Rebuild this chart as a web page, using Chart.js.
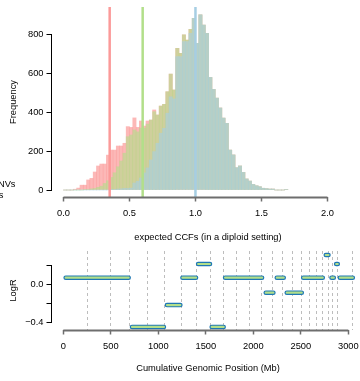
<!DOCTYPE html>
<html>
<head>
<meta charset="utf-8">
<script src="https://cdn.jsdelivr.net/npm/chart.js@4.4.0/dist/chart.umd.min.js"></script>
<style>
  html, body { margin: 0; padding: 0; background: #fff; }
  #wrap { position: relative; width: 360px; height: 381px; overflow: hidden; }
  canvas { position: absolute; left: 0; }
  #ccfChart { top: 0; }
  #logrChart { top: 250px; }
</style>
</head>
<body>
<div id="wrap">
  <canvas id="ccfChart" width="380" height="250"></canvas>
  <canvas id="logrChart" width="380" height="131"></canvas>
</div>
<script>
// histogram counts per 0.025-wide CCF bin, starting at 0
const pinkCounts  = [0,0,0,4,10,25,25,52,60,93,124,134,134,180,206,206,227,227,241,327,323,372,323,356,330,356,361,413,387,433,442,507,598,516,731,705,800,774,829,886,757,903,851,808,581,519,474,423,371,344,206,181,115,124,91,57,46,29,22,17,9,7,5,5,0,0,0,3];
const greenCounts = [0,0,0,0,0,0,2,3,6,8,14,20,34,48,65,89,120,150,190,275,284,310,300,320,320,340,361,404,387,433,442,507,598,516,731,705,800,774,829,886,757,903,851,808,581,519,474,423,371,344,206,181,115,124,91,57,46,29,22,17,9,7,5,5,0,0,0,3];
const blueCounts  = [0,0,0,0,0,0,0,0,0,0,0,0,0,0,2,3,5,6,8,8,10,36,45,62,88,114,155,198,241,293,318,396,481,470,688,688,765,765,808,886,757,903,851,808,581,519,474,423,371,344,206,181,115,124,91,57,46,29,22,17,9,7,5,5,0,0,0,3];
const binWidth = 0.025;

// purity lines (expected CCF of clonal peaks)
const purityValues = [0.35, 0.6, 1.0];
const purityColors = ['#FB9A99', '#B2DF8A', '#A6CEE3'];

const ccfTicks = [0, 0.5, 1, 1.5, 2];
const freqTicks = [0, 200, 400, 600, 800];

// copy-number segments (Mb, logR)
const segStart = [25, 723, 1091, 1254, 1419, 1562, 1703, 2131, 2247, 2352, 2525, 2763, 2823, 2872, 2911];
const segEnd   = [688, 1059, 1232, 1397, 1544, 1688, 2092, 2211, 2320, 2510, 2731, 2791, 2847, 2889, 3047];
const segLogR  = [0.074, -0.445, -0.214, 0.074, 0.218, -0.445, 0.074, -0.084, 0.074, -0.084, 0.074, 0.313, 0.074, 0.218, 0.074];

// chromosome ends, cumulative (Mb)
const chromEnds = [249, 492, 690, 882, 1063, 1234, 1393, 1539, 1680, 1816, 1951, 2085, 2200, 2307, 2410, 2500, 2581, 2659, 2718, 2781, 2830, 2881, 3036];

const genomeTicks = [0, 500, 1000, 1500, 2000, 2500, 3000];
const logRTicks = [-0.4, -0.2, 0, 0.2];
const logRLabels = ['\u22120.4', '', '0.0', ''];

Chart.defaults.font.family = '"Liberation Sans", Arial, Helvetica, sans-serif';
Chart.defaults.font.size = 9.3;
Chart.defaults.color = '#000';

// keep the plot region where it is: no extra room for edge labels
function noEdgePadding(s) {
  s.paddingTop = 0;
  s.paddingBottom = 0;
  s.paddingLeft = 0;
  s.paddingRight = 0;
}

// R style axis lines: only between first and last tick
const rAxes = {
  id: 'rAxes',
  afterDraw(chart) {
    const {ctx, chartArea, scales} = chart;
    const xs = scales.x, ys = scales.y;
    ctx.save();
    ctx.strokeStyle = '#000';
    ctx.lineWidth = 1;
    ctx.beginPath();
    ctx.moveTo(chartArea.left - 0.5, ys.getPixelForValue(ys.ticks[0].value));
    ctx.lineTo(chartArea.left - 0.5, ys.getPixelForValue(ys.ticks[ys.ticks.length - 1].value));
    ctx.stroke();
    ctx.strokeStyle = '#6e6e6e';
    ctx.lineWidth = 2;
    ctx.beginPath();
    ctx.moveTo(xs.getPixelForValue(xs.ticks[0].value), chartArea.bottom + 0.5);
    ctx.lineTo(xs.getPixelForValue(xs.ticks[xs.ticks.length - 1].value), chartArea.bottom + 0.5);
    ctx.stroke();
    ctx.restore();
  }
};

const purityLines = {
  id: 'purityLines',
  afterDatasetsDraw(chart) {
    const {ctx, chartArea, scales} = chart;
    ctx.save();
    ctx.lineWidth = 2.5;
    purityValues.forEach((v, i) => {
      const px = scales.x.getPixelForValue(v);
      ctx.strokeStyle = purityColors[i];
      ctx.beginPath();
      ctx.moveTo(px, chartArea.top);
      ctx.lineTo(px, chartArea.bottom);
      ctx.stroke();
    });
    ctx.restore();
  }
};

// legend text that sits mostly outside the picture on the left
const legendStub = {
  id: 'legendStub',
  afterDraw(chart) {
    const {ctx} = chart;
    ctx.save();
    ctx.font = '9.3px "Liberation Sans", Arial, sans-serif';
    ctx.fillStyle = '#000';
    ctx.textAlign = 'right';
    ctx.fillText('SNVs', 15.5, 187);
    ctx.fillText('CNAs', 3.5, 198);
    ctx.restore();
  }
};

const chromLines = {
  id: 'chromLines',
  beforeDatasetsDraw(chart) {
    const {ctx, chartArea, scales} = chart;
    ctx.save();
    ctx.strokeStyle = '#bdbdbd';
    ctx.lineWidth = 1;
    ctx.setLineDash([3, 3]);
    chromEnds.forEach(v => {
      const px = Math.round(scales.x.getPixelForValue(v)) + 0.5;
      ctx.beginPath();
      ctx.moveTo(px, chartArea.top);
      ctx.lineTo(px, chartArea.bottom);
      ctx.stroke();
    });
    ctx.restore();
  }
};

const binMids = pinkCounts.map((_, i) => (i + 0.5) * binWidth);
const toPoints = counts => counts.map((c, i) => ({x: binMids[i], y: c}));

new Chart(document.getElementById('ccfChart'), {
  type: 'bar',
  data: {
    datasets: [
      {data: toPoints(pinkCounts), backgroundColor: 'rgba(251,154,153,0.7)', order: 3},
      {data: toPoints(greenCounts), backgroundColor: 'rgba(178,223,138,0.6)', order: 2},
      {data: toPoints(blueCounts), backgroundColor: 'rgba(166,206,227,0.6)', order: 1}
    ]
  },
  options: {
    responsive: false,
    animation: false,
    devicePixelRatio: 1,
    layout: {padding: {left: 0, right: 16, top: 7, bottom: 0}},
    plugins: {legend: {display: false}, tooltip: {enabled: false}},
    datasets: {bar: {grouped: false, barPercentage: 1, categoryPercentage: 1, borderWidth: 0}},
    scales: {
      x: {
        type: 'linear', min: -0.087, max: 2.277, offset: false,
        afterBuildTicks: s => { s.ticks = ccfTicks.map(v => ({value: v})); },
        afterFit: s => { s.height = 53; noEdgePadding(s); },
        ticks: {callback: v => v.toFixed(1), padding: 6, maxRotation: 0, autoSkip: false},
        grid: {offset: false, drawOnChartArea: false, tickLength: 4.5, color: '#6e6e6e', tickWidth: 1.5},
        border: {display: false},
        title: {display: true, text: 'expected CCFs (in a diploid setting)', padding: {top: 0, bottom: 7.4}}
      },
      y: {
        min: -36, max: 944,
        afterBuildTicks: s => { s.ticks = freqTicks.map(v => ({value: v})); },
        afterFit: s => { s.width = 52; noEdgePadding(s); },
        ticks: {padding: 3, autoSkip: false},
        grid: {drawOnChartArea: false, tickLength: 5.5, color: '#000'},
        border: {display: false},
        title: {display: true, text: 'Frequency', padding: {top: 7.4, bottom: 0}}
      }
    }
  },
  plugins: [rAxes, purityLines, legendStub]
});

const segPoints = [];
segStart.forEach((s, i) => {
  segPoints.push({x: s, y: segLogR[i]}, {x: segEnd[i], y: segLogR[i]}, {x: segEnd[i], y: null});
});

new Chart(document.getElementById('logrChart'), {
  type: 'line',
  data: {
    datasets: [
      {data: segPoints, borderColor: '#B2DF8A', borderWidth: 2.2, order: 1},
      {data: segPoints, borderColor: '#1F78B4', borderWidth: 4.6, order: 2}
    ]
  },
  options: {
    responsive: false,
    animation: false,
    devicePixelRatio: 1,
    layout: {padding: {left: 0, right: 16, top: 1, bottom: 0}},
    plugins: {legend: {display: false}, tooltip: {enabled: false}},
    datasets: {line: {pointRadius: 0, spanGaps: false, borderCapStyle: 'round', tension: 0, fill: false}},
    scales: {
      x: {
        type: 'linear', min: -119, max: 3165,
        afterBuildTicks: s => { s.ticks = genomeTicks.map(v => ({value: v})); },
        afterFit: s => { s.height = 51; noEdgePadding(s); },
        ticks: {callback: v => String(v), padding: 6, maxRotation: 0, autoSkip: false},
        grid: {drawOnChartArea: false, tickLength: 4.5, color: '#6e6e6e', tickWidth: 1.5},
        border: {display: false},
        title: {display: true, text: 'Cumulative Genomic Position (Mb)', padding: {top: 0, bottom: 7.1}}
      },
      y: {
        min: -0.477, max: 0.355,
        afterBuildTicks: s => { s.ticks = logRTicks.map(v => ({value: v})); },
        afterFit: s => { s.width = 52; noEdgePadding(s); },
        ticks: {callback: (v, i) => logRLabels[i], padding: 3, autoSkip: false},
        grid: {drawOnChartArea: false, tickLength: 5.5, color: '#000'},
        border: {display: false},
        title: {display: true, text: 'LogR', padding: {top: 7.4, bottom: 0}}
      }
    }
  },
  plugins: [rAxes, chromLines]
});
</script>
</body>
</html>
